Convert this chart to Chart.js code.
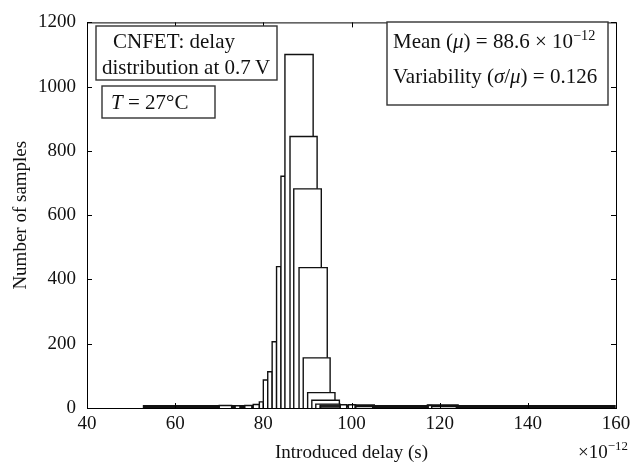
<!DOCTYPE html>
<html><head><meta charset="utf-8">
<script src="https://cdn.jsdelivr.net/npm/chart.js@4.4.1/dist/chart.umd.min.js"></script>
<style>html,body{margin:0;padding:0;background:#fff}#wrap{width:640px;height:470px}</style>
</head><body><div id="wrap"><canvas id="c" width="640" height="470"></canvas></div>
<script>
// ---- data ----
const xTicks = [40, 60, 80, 100, 120, 140, 160];
const yTicks = [0, 200, 400, 600, 800, 1000, 1200];

// low-count tail bins forming the dark band along the baseline (drawn first)
const bandLeft   = [53, 70, 97.4, 100.8, 105, 117.4, 124, 140];
const bandRight  = [70, 78, 100.8, 105, 117.4, 124, 140, 159.6];
const bandCounts = [5, 5, 6, 7, 5, 7, 5, 5];

// small isolated bins just above the band
const smallLeft   = [70.0, 73.6, 75.8, 97.4, 99.3, 117.4];
const smallRight  = [72.8, 74.7, 77.4, 98.9, 100.8, 118.2];
const smallCounts = [8, 7, 8, 10, 10, 8];

// narrow bins of the left flank
const narrowEdges  = [77.7, 79.1, 80.0, 81.0, 82.0, 83.0, 84.0, 85.0];
const narrowCounts = [11, 19, 87, 113, 206, 440, 721];

// wide overlapping bins (drawn last, each over the previous)
const wideLeft   = [84.9, 86.05, 86.9, 88.1, 89.05, 90.05, 91.0, 91.9, 92.9, 92.95, 93.0];
const wideRight  = [91.3, 92.2, 93.15, 94.5, 95.15, 96.25, 97.25, 97.4, 97.4, 97.4, 97.4];
const wideCounts = [1100, 845, 682, 437, 156, 48, 24, 12, 9, 6, 3];

// ---- build rectangles (back to front) ----
const rects = [];
bandLeft.forEach((l, i) => rects.push([l, bandRight[i], bandCounts[i], 3]));
smallLeft.forEach((l, i) => rects.push([l, smallRight[i], smallCounts[i], 1.4]));
narrowCounts.forEach((c, i) => rects.push([narrowEdges[i], narrowEdges[i + 1], c, 1.4]));
wideLeft.forEach((l, i) => rects.push([l, wideRight[i], wideCounts[i], 1.4]));

const datasets = rects.map(([a, b, h, w]) => ({
  type: 'line',
  data: [{x: a, y: 0}, {x: a, y: h}, {x: b, y: h}, {x: b, y: 0}],
  borderColor: '#111',
  borderWidth: w,
  backgroundColor: '#ffffff',
  fill: 'origin',
  pointRadius: 0,
  tension: 0,
  borderJoinStyle: 'miter'
})).reverse();

const SERIF = '"Liberation Serif", "DejaVu Serif", serif';

function drawRuns(ctx, x, y, runs, size) {
  for (const r of runs) {
    const fs = r.sup ? size * 0.68 : size;
    ctx.font = (r.it ? 'italic ' : '') + fs + 'px ' + SERIF;
    const dy = r.sup ? -size * 0.4 : 0;
    ctx.fillText(r.t, x, y + dy);
    x += ctx.measureText(r.t).width;
  }
  return x;
}

const framePlugin = {
  id: 'frame',
  afterDatasetsDraw(chart) {
    const {ctx, chartArea: a, scales: {x, y}} = chart;
    ctx.save();
    ctx.strokeStyle = '#000';
    ctx.lineWidth = 1;
    ctx.beginPath();
    xTicks.forEach(v => {
      const px = Math.round(x.getPixelForValue(v)) + 0.5;
      ctx.moveTo(px, a.bottom); ctx.lineTo(px, a.bottom - 5);
      ctx.moveTo(px, a.top); ctx.lineTo(px, a.top + 5);
    });
    yTicks.forEach(v => {
      const py = Math.round(y.getPixelForValue(v)) + 0.5;
      ctx.moveTo(a.left, py); ctx.lineTo(a.left + 5, py);
      ctx.moveTo(a.right, py); ctx.lineTo(a.right - 5, py);
    });
    ctx.stroke();
    ctx.strokeRect(a.left + 0.5, a.top + 0.5, a.right - a.left, a.bottom - a.top);
    ctx.restore();
  },
  afterDraw(chart) {
    const {ctx} = chart;
    ctx.save();
    ctx.fillStyle = '#111';
    ctx.textBaseline = 'alphabetic';
    // exponent under the x axis
    drawRuns(ctx, 578, 458, [{t: '\u00d710'}, {t: '\u221212', sup: true}], 19);
    // boxes
    ctx.strokeStyle = '#333';
    ctx.lineWidth = 1.4;
    const box = (x0, y0, x1, y1) => {
      ctx.fillStyle = '#fff';
      ctx.fillRect(x0, y0, x1 - x0, y1 - y0);
      ctx.strokeRect(x0, y0, x1 - x0, y1 - y0);
      ctx.fillStyle = '#111';
    };
    box(96, 26, 277, 80);
    drawRuns(ctx, 113, 48, [{t: 'CNFET: delay'}], 21);
    drawRuns(ctx, 102, 74, [{t: 'distribution at 0.7\u2009V'}], 21);
    box(102, 86, 215, 118);
    drawRuns(ctx, 111, 109, [{t: 'T', it: true}, {t: ' = 27'}, {t: '\u00b0'}, {t: 'C'}], 21);
    box(387, 22, 608, 105);
    drawRuns(ctx, 393, 48, [{t: 'Mean ('}, {t: '\u03bc', it: true}, {t: ') = 88.6 \u00d7 10'}, {t: '\u221212', sup: true}], 21);
    drawRuns(ctx, 393, 83, [{t: 'Variability ('}, {t: '\u03c3', it: true}, {t: '/'}, {t: '\u03bc', it: true}, {t: ') = 0.126'}], 21);
    ctx.restore();
  }
};

new Chart(document.getElementById('c'), {
  type: 'scatter',
  data: {datasets},
  options: {
    responsive: false,
    animation: false,
    devicePixelRatio: 1,
    layout: {padding: {top: 14, right: 24, left: 0, bottom: 0}},
    plugins: {legend: {display: false}, tooltip: {enabled: false}},
    scales: {
      x: {
        type: 'linear', min: 40, max: 160,
        afterBuildTicks: s => { s.ticks = xTicks.map(v => ({value: v})); },
        afterFit: s => { s.height = 62; },
        grid: {display: false, drawTicks: false},
        border: {display: false},
        ticks: {padding: 5, color: '#111', font: {family: SERIF, size: 19}, maxRotation: 0, callback: v => String(v)},
        title: {display: true, text: 'Introduced delay (s)', color: '#111', font: {family: SERIF, size: 19}, padding: {top: 0, bottom: 6}}
      },
      y: {
        type: 'linear', min: 0, max: 1200,
        afterBuildTicks: s => { s.ticks = yTicks.map(v => ({value: v})); },
        afterFit: s => { s.width = 87; },
        grid: {display: false, drawTicks: false},
        border: {display: false},
        ticks: {padding: 11, color: '#111', font: {family: SERIF, size: 19}, callback: v => String(v)},
        title: {display: true, text: 'Number of samples', color: '#111', font: {family: SERIF, size: 19}, padding: {top: 10, bottom: 0}}
      }
    }
  },
  plugins: [framePlugin]
});
</script></body></html>
